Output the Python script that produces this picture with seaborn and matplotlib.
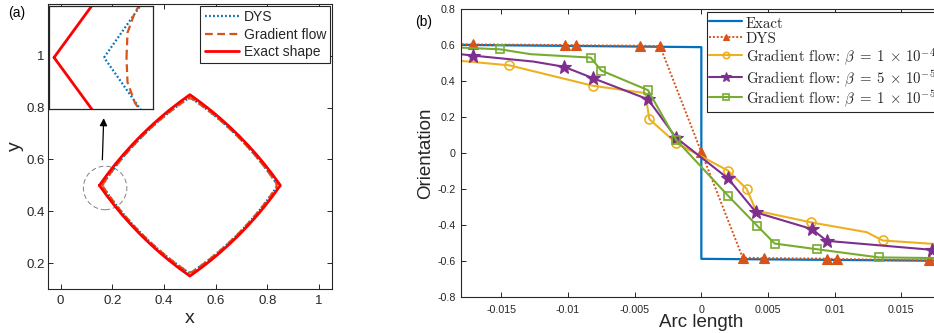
import matplotlib
matplotlib.use("Agg")
import matplotlib.pyplot as plt
import seaborn as sns
from matplotlib.patches import Circle
from matplotlib.font_manager import FontProperties

# ---------------- panel (a): shapes ----------------
exact_x = [0.150, 0.1794, 0.2100, 0.2419, 0.2751, 0.3094, 0.3451, 0.3819, 0.4200, 0.4594,
           0.500, 0.5406, 0.5800, 0.6181, 0.6549, 0.6906, 0.7249, 0.7581, 0.7900, 0.8206,
           0.850, 0.8206, 0.7900, 0.7581, 0.7249, 0.6906, 0.6549, 0.6181, 0.5800, 0.5406,
           0.500, 0.4594, 0.4200, 0.3819, 0.3451, 0.3094, 0.2751, 0.2419, 0.2100, 0.1794, 0.150]
exact_y = [0.500, 0.5406, 0.5800, 0.6181, 0.6549, 0.6906, 0.7249, 0.7581, 0.7900, 0.8206,
           0.850, 0.8206, 0.7900, 0.7581, 0.7249, 0.6906, 0.6549, 0.6181, 0.5800, 0.5406,
           0.500, 0.4594, 0.4200, 0.3819, 0.3451, 0.3094, 0.2751, 0.2419, 0.2100, 0.1794,
           0.150, 0.1794, 0.2100, 0.2419, 0.2751, 0.3094, 0.3451, 0.3819, 0.4200, 0.4594, 0.500]

dys_x = [0.160, 0.1879, 0.2171, 0.2477, 0.2797, 0.3130, 0.3477, 0.3837, 0.4211, 0.4599,
         0.500, 0.5401, 0.5789, 0.6163, 0.6523, 0.6870, 0.7203, 0.7523, 0.7829, 0.8121,
         0.840, 0.8121, 0.7829, 0.7523, 0.7203, 0.6870, 0.6523, 0.6163, 0.5789, 0.5401,
         0.500, 0.4599, 0.4211, 0.3837, 0.3477, 0.3130, 0.2797, 0.2477, 0.2171, 0.1879, 0.160]
dys_y = [0.500, 0.5401, 0.5789, 0.6163, 0.6523, 0.6870, 0.7203, 0.7523, 0.7829, 0.8121,
         0.840, 0.8121, 0.7829, 0.7523, 0.7203, 0.6870, 0.6523, 0.6163, 0.5789, 0.5401,
         0.500, 0.4599, 0.4211, 0.3837, 0.3477, 0.3130, 0.2797, 0.2477, 0.2171, 0.1879,
         0.160, 0.1879, 0.2171, 0.2477, 0.2797, 0.3130, 0.3477, 0.3837, 0.4211, 0.4599, 0.500]

gf_x = [0.1645, 0.1647, 0.1662, 0.1879, 0.2171, 0.2477, 0.2797, 0.3130, 0.3477, 0.3837, 0.4211, 0.4599,
        0.4908, 0.4950, 0.5000, 0.5050, 0.5092,
        0.5401, 0.5789, 0.6163, 0.6523, 0.6870, 0.7203, 0.7523, 0.7829, 0.8121,
        0.8338, 0.8353, 0.8355, 0.8353, 0.8338,
        0.8121, 0.7829, 0.7523, 0.7203, 0.6870, 0.6523, 0.6163, 0.5789, 0.5401,
        0.5092, 0.5050, 0.5000, 0.4950, 0.4908,
        0.4599, 0.4211, 0.3837, 0.3477, 0.3130, 0.2797, 0.2477, 0.2171, 0.1879,
        0.1662, 0.1647, 0.1645]
gf_y = [0.5000, 0.5050, 0.5092, 0.5401, 0.5789, 0.6163, 0.6523, 0.6870, 0.7203, 0.7523, 0.7829, 0.8121,
        0.8338, 0.8353, 0.8355, 0.8353, 0.8338,
        0.8121, 0.7829, 0.7523, 0.7203, 0.6870, 0.6523, 0.6163, 0.5789, 0.5401,
        0.5092, 0.5050, 0.5000, 0.4950, 0.4908,
        0.4599, 0.4211, 0.3837, 0.3477, 0.3130, 0.2797, 0.2477, 0.2171, 0.1879,
        0.1662, 0.1647, 0.1645, 0.1647, 0.1662,
        0.1879, 0.2171, 0.2477, 0.2797, 0.3130, 0.3477, 0.3837, 0.4211, 0.4599,
        0.4908, 0.4950, 0.5000]

a_xticks = [0, 0.2, 0.4, 0.6, 0.8, 1]
a_xticklabels = ["0", "0.2", "0.4", "0.6", "0.8", "1"]
a_yticks = [0.2, 0.4, 0.6, 0.8, 1]
a_yticklabels = ["0.2", "0.4", "0.6", "0.8", "1"]
a_labels = ["DYS", "Gradient flow", "Exact shape"]

# ---------------- panel (b): orientation vs arc length ----------------
arc_exact = [-0.0200, 0.0000, 0.0000, 0.0200]
ori_exact = [0.602, 0.588, -0.588, -0.600]

arc_dys = [-0.0200, -0.0171, -0.0102, -0.0094, -0.0046, -0.0031, 0.0000,
           0.0031, 0.0047, 0.0094, 0.0102, 0.0171, 0.0200]
ori_dys = [0.605, 0.603, 0.600, 0.598, 0.596, 0.594, 0.005,
           -0.582, -0.584, -0.587, -0.589, -0.597, -0.600]
mk_dys = [1, 2, 3, 4, 5, 6, 7, 8, 9, 10, 11]

arc_gf4 = [-0.0200, -0.0144, -0.0081, -0.0042, -0.0039, -0.0019, 0.0020,
           0.0034, 0.0041, 0.0082, 0.0124, 0.0136, 0.0200]
ori_gf4 = [0.525, 0.487, 0.373, 0.333, 0.188, 0.056, -0.098,
           -0.200, -0.320, -0.385, -0.440, -0.486, -0.518]
mk_gf4 = [1, 2, 4, 5, 6, 7, 9, 11]

arc_gf5 = [-0.0200, -0.0171, -0.0126, -0.0103, -0.0081, -0.0040, -0.0019,
           0.0020, 0.0041, 0.0083, 0.0094, 0.0173, 0.0200]
ori_gf5 = [0.565, 0.541, 0.508, 0.479, 0.415, 0.298, 0.085,
           -0.141, -0.330, -0.423, -0.488, -0.538, -0.548]
mk_gf5 = [1, 3, 4, 5, 6, 7, 8, 9, 10, 11]

arc_gf1 = [-0.0200, -0.0151, -0.0128, -0.0083, -0.0075, -0.0040, -0.0019,
           0.0020, 0.0042, 0.0055, 0.0087, 0.0133, 0.0200]
ori_gf1 = [0.592, 0.576, 0.549, 0.530, 0.458, 0.349, 0.074,
           -0.237, -0.405, -0.503, -0.535, -0.580, -0.586]
mk_gf1 = [1, 3, 4, 5, 6, 7, 8, 9, 10, 11]

b_xticks = [-0.015, -0.01, -0.005, 0, 0.005, 0.01, 0.015]
b_xticklabels = ["-0.015", "-0.01", "-0.005", "0", "0.005", "0.01", "0.015"]
b_yticks = [-0.8, -0.6, -0.4, -0.2, 0, 0.2, 0.4, 0.6, 0.8]
b_yticklabels = ["-0.8", "-0.6", "-0.4", "-0.2", "0", "0.2", "0.4", "0.6", "0.8"]
b_labels = ["Exact", "DYS",
            r"Gradient flow: $\beta\;=\;1\,\times\,10^{-4}$",
            r"Gradient flow: $\beta\;=\;5\,\times\,10^{-5}$",
            r"Gradient flow: $\beta\;=\;1\,\times\,10^{-5}$"]

# ---------------- style ----------------
sns.set_theme(style="ticks")
plt.rcParams["font.family"] = ["Liberation Sans", "DejaVu Sans"]
plt.rcParams["mathtext.fontset"] = "cm"
GRAY = "#262626"
C_BLUE, C_ORANGE, C_YELLOW, C_PURPLE, C_GREEN = "#0072BD", "#D95319", "#EDB120", "#7E2F8E", "#77AC30"

fig = plt.figure(figsize=(9.34, 3.33), dpi=100)

def style_axes(ax, fs, pad_x, pad_y):
    for s in ax.spines.values():
        s.set_visible(True)
        s.set_color(GRAY)
        s.set_linewidth(0.8)
    ax.tick_params(direction="in", top=True, right=True, length=3.5, width=0.7,
                   color=GRAY, labelcolor=GRAY, labelsize=fs)
    ax.tick_params(axis="x", pad=pad_x)
    ax.tick_params(axis="y", pad=pad_y)
    ax.set_facecolor("white")

# ---- panel (a)
axA = fig.add_axes([0.0511, 0.1321, 0.3044, 0.8559])
sns.lineplot(x=dys_x, y=dys_y, ax=axA, sort=False, estimator=None, color=C_BLUE,
             lw=1.6, linestyle=(0, (0.8, 1.0)), label=a_labels[0])
sns.lineplot(x=gf_x, y=gf_y, ax=axA, sort=False, estimator=None, color=C_ORANGE,
             lw=1.6, linestyle=(0, (3.5, 2.0)), label=a_labels[1])
sns.lineplot(x=exact_x, y=exact_y, ax=axA, sort=False, estimator=None, color="#FF0000",
             lw=2.0, label=a_labels[2])
axA.set_xlim(-0.05, 1.05)
axA.set_ylim(0.1, 1.2)
axA.set_xticks(a_xticks, a_xticklabels)
axA.set_yticks(a_yticks, a_yticklabels)
style_axes(axA, 9.5, 4.0, 2.0)
axA.set_xlabel("x", fontsize=14, color=GRAY, va="center")
axA.xaxis.set_label_coords(0.5, -0.105)
axA.set_ylabel("y", fontsize=14, color=GRAY, va="center")
axA.yaxis.set_label_coords(-0.115, 0.5)
axA.add_patch(Circle((0.172, 0.49), 0.084, fill=False, ls=(0, (5, 3)), lw=0.7, ec="#808080"))
axA.annotate("", xy=(0.167, 0.77), xytext=(0.161, 0.588),
             arrowprops=dict(arrowstyle="-|>", color="black", lw=0.9, mutation_scale=11))
legA = axA.legend(loc="upper right", bbox_to_anchor=(0.993, 0.993), borderaxespad=0,
                  fancybox=False, framealpha=1, edgecolor=GRAY, fontsize=10,
                  handlelength=2.5, handletextpad=0.3, labelspacing=0.25, borderpad=0.3)
legA.get_frame().set_linewidth(0.8)
legA.set_zorder(5)

# ---- inset
axI = fig.add_axes([0.0525, 0.6727, 0.1113, 0.3093])
sns.lineplot(x=dys_x, y=dys_y, ax=axI, sort=False, estimator=None, color=C_BLUE,
             lw=1.6, linestyle=(0, (0.8, 1.0)))
sns.lineplot(x=gf_x, y=gf_y, ax=axI, sort=False, estimator=None, color=C_ORANGE,
             lw=1.6, linestyle=(0, (3.5, 2.0)))
sns.lineplot(x=exact_x, y=exact_y, ax=axI, sort=False, estimator=None, color="#FF0000", lw=2.0)
axI.set_xlim(0.149, 0.1698)
axI.set_ylim(0.4896, 0.5104)
axI.set_xticks([])
axI.set_yticks([])
axI.set_xlabel("")
axI.set_ylabel("")
for s in axI.spines.values():
    s.set_visible(True)
    s.set_color(GRAY)
    s.set_linewidth(0.9)
axI.set_facecolor("white")

# ---- panel (b)
axB = fig.add_axes([0.4939, 0.1081, 0.5140, 0.8649])
sns.lineplot(x=arc_exact, y=ori_exact, ax=axB, sort=False, estimator=None, color=C_BLUE,
             lw=1.6, label=b_labels[0])
sns.lineplot(x=arc_dys, y=ori_dys, ax=axB, sort=False, estimator=None, color=C_ORANGE,
             lw=1.4, linestyle=(0, (1, 1)), marker="^", markevery=mk_dys, ms=7,
             mfc=C_ORANGE, mec=C_ORANGE, mew=0.8, label=b_labels[1])
sns.lineplot(x=arc_gf4, y=ori_gf4, ax=axB, sort=False, estimator=None, color=C_YELLOW,
             lw=1.5, marker="o", markevery=mk_gf4, ms=6.5, mfc="none", mec=C_YELLOW, mew=1.2,
             label=b_labels[2])
sns.lineplot(x=arc_gf5, y=ori_gf5, ax=axB, sort=False, estimator=None, color=C_PURPLE,
             lw=1.5, marker="*", markevery=mk_gf5, ms=10, mfc=C_PURPLE, mec=C_PURPLE, mew=0.8,
             label=b_labels[3])
sns.lineplot(x=arc_gf1, y=ori_gf1, ax=axB, sort=False, estimator=None, color=C_GREEN,
             lw=1.5, marker="s", markevery=mk_gf1, ms=5.5, mfc="none", mec=C_GREEN, mew=1.2,
             label=b_labels[4])
axB.set_xlim(-0.018, 0.018)
axB.set_ylim(-0.8, 0.8)
axB.set_xticks(b_xticks, b_xticklabels)
axB.set_yticks(b_yticks, b_yticklabels)
style_axes(axB, 7.7, 6.0, 4.0)
axB.set_xlabel("Arc length", fontsize=13.5, color=GRAY, va="center")
axB.xaxis.set_label_coords(0.5, -0.09)
axB.set_ylabel("Orientation", fontsize=13.5, color=GRAY, va="center")
axB.yaxis.set_label_coords(-0.075, 0.5)
legB = axB.legend(loc="upper left", bbox_to_anchor=(706.5 / 934, 1 - 12 / 333),
                  bbox_transform=fig.transFigure, borderaxespad=0, fancybox=False,
                  framealpha=1, edgecolor=GRAY, prop=FontProperties(family="cmr10", size=10.7),
                  handlelength=2.2, handleheight=1.22, handletextpad=0.25, labelspacing=0.0,
                  borderpad=0.2, markerscale=0.7)
legB.get_frame().set_linewidth(0.8)

fig.text(17 / 934, 1 - 13 / 333, "(a)", fontsize=10, color="black", ha="center", va="center")
fig.text(424 / 934, 1 - 22 / 333, "(b)", fontsize=10, color="black", ha="center", va="center")

fig.savefig("out.png", dpi=100)
